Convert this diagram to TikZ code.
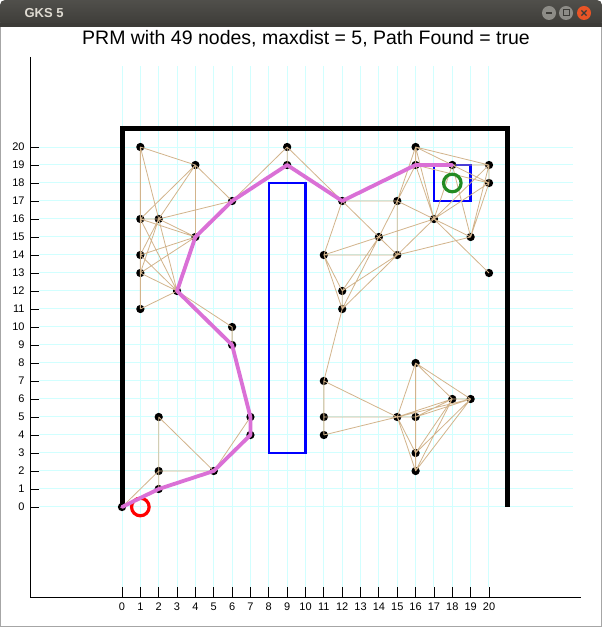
\documentclass[tikz,border=0pt]{standalone}
\usepackage{fontspec}
\setmainfont{Liberation Sans}

\definecolor{prmtan}{rgb}{0.824,0.706,0.549}
\definecolor{prmorchid}{rgb}{0.855,0.439,0.839}
\definecolor{prmgrid}{rgb}{0.82,1.0,1.0}
\definecolor{prmgreen}{rgb}{0.133,0.545,0.133}
\definecolor{prmbartop}{rgb}{0.314,0.310,0.294}
\definecolor{prmbarbot}{rgb}{0.235,0.231,0.216}
\definecolor{prmbartext}{rgb}{0.875,0.859,0.824}
\definecolor{prmbutton}{rgb}{0.553,0.549,0.529}
\definecolor{prmclose}{rgb}{0.914,0.329,0.149}
\definecolor{prmframe}{rgb}{0.650,0.650,0.650}

\tikzset{
  prmnode/.style={circle,fill=black,inner sep=0pt,minimum size=8.3pt},
  prmedge/.style={prmtan,line width=0.8pt},
  prmpath/.style={prmorchid,line width=3.8pt,line join=round,line cap=round},
  prmwall/.style={black,line width=5pt,line join=miter},
  prmobst/.style={blue,line width=2.4pt},
  prmaxis/.style={black,line width=0.9pt},
  prmbtn/.style={circle,inner sep=0pt,minimum size=14pt},
  prmtick/.style={font=\fontsize{11}{11}\selectfont,inner sep=0pt}
}

\begin{document}
\begin{tikzpicture}[x=1pt,y=1pt]
\useasboundingbox (0,0) rectangle (602,627);
% window
\fill[white] (0,0) rectangle (602,627);
\draw[prmframe,line width=1.2pt] (0.6,0.6) rectangle (601.4,610);
\shade[top color=prmbartop,bottom color=prmbarbot,rounded corners=5pt]
  (0,600) -- (0,627) -- (602,627) -- (602,600) -- cycle;
\fill[prmbarbot] (0,600) rectangle (602,604);
\node[font=\bfseries\fontsize{13}{13}\selectfont,text=prmbartext,anchor=west] (wintitle) at (21,614) {GKS 5};
\node[prmbtn,fill=prmbutton] (btnmin) at (549,614) {};
\node[prmbtn,fill=prmbutton] (btnmax) at (566,614) {};
\node[prmbtn,fill=prmclose] (btnclose) at (584,614) {};
\draw[prmbarbot,line width=1.3pt] ([xshift=-3pt]btnmin.center) -- ([xshift=3pt]btnmin.center);
\draw[prmbarbot,line width=1pt] ([shift={(-3pt,-3pt)}]btnmax.center) rectangle ([shift={(3pt,3pt)}]btnmax.center);
\draw[prmbarbot,line width=1.2pt] ([shift={(-2.6pt,-2.6pt)}]btnclose.center) -- ([shift={(2.6pt,2.6pt)}]btnclose.center)
  ([shift={(-2.6pt,2.6pt)}]btnclose.center) -- ([shift={(2.6pt,-2.6pt)}]btnclose.center);
\node[font=\fontsize{19.5}{19.5}\selectfont] (title) at (306,588) {PRM with 49 nodes, maxdist = 5, Path Found = true};

\begin{scope}[shift={(122,120)},x=18.35pt,y=18pt]
% grid and axes
\draw[prmgrid,line width=1pt] (0,-4.45) grid[xstep=1,ystep=100] (20,24.5);
\draw[prmgrid,line width=1pt] (-4.55,0) grid[xstep=100,ystep=1] (24.6,20);
\draw[prmaxis] (-5,25) -- (-5,-5) -- (25,-5);
\foreach \v in {0,...,20} {
  \draw[prmaxis] (-5,\v) -- (-4.55,\v);
  \draw[prmaxis] (\v,-5) -- (\v,-4.45);
  \node[prmtick,anchor=east] (ylab\v) at (-5.3,\v) {\v};
  \node[prmtick] (xlab\v) at (\v,-5.55) {\v};
}
% walls and obstacles
\draw[prmwall] (0,0) -- (0,21) -- (21,21) -- (21,0);
\draw[prmobst] (8,3) rectangle (10,18);
\draw[prmobst] (17,17) rectangle (19,19);
% roadmap nodes
\node[prmnode] (n0-0) at (0,0) {};
\node[prmnode] (n1-20) at (1,20) {};
\node[prmnode] (n4-19) at (4,19) {};
\node[prmnode] (n9-20) at (9,20) {};
\node[prmnode] (n9-19) at (9,19) {};
\node[prmnode] (n6-17) at (6,17) {};
\node[prmnode] (n1-16) at (1,16) {};
\node[prmnode] (n2-16) at (2,16) {};
\node[prmnode] (n4-15) at (4,15) {};
\node[prmnode] (n1-14) at (1,14) {};
\node[prmnode] (n1-13) at (1,13) {};
\node[prmnode] (n3-12) at (3,12) {};
\node[prmnode] (n1-11) at (1,11) {};
\node[prmnode] (n6-10) at (6,10) {};
\node[prmnode] (n6-9) at (6,9) {};
\node[prmnode] (n7-5) at (7,5) {};
\node[prmnode] (n7-4) at (7,4) {};
\node[prmnode] (n2-5) at (2,5) {};
\node[prmnode] (n2-2) at (2,2) {};
\node[prmnode] (n2-1) at (2,1) {};
\node[prmnode] (n5-2) at (5,2) {};
\node[prmnode] (n12-17) at (12,17) {};
\node[prmnode] (n16-20) at (16,20) {};
\node[prmnode] (n16-19) at (16,19) {};
\node[prmnode] (n18-19) at (18,19) {};
\node[prmnode] (n20-19) at (20,19) {};
\node[prmnode] (n20-18) at (20,18) {};
\node[prmnode] (n15-17) at (15,17) {};
\node[prmnode] (n17-16) at (17,16) {};
\node[prmnode] (n14-15) at (14,15) {};
\node[prmnode] (n19-15) at (19,15) {};
\node[prmnode] (n11-14) at (11,14) {};
\node[prmnode] (n15-14) at (15,14) {};
\node[prmnode] (n20-13) at (20,13) {};
\node[prmnode] (n12-12) at (12,12) {};
\node[prmnode] (n12-11) at (12,11) {};
\node[prmnode] (n11-7) at (11,7) {};
\node[prmnode] (n11-5) at (11,5) {};
\node[prmnode] (n11-4) at (11,4) {};
\node[prmnode] (n15-5) at (15,5) {};
\node[prmnode] (n16-5) at (16,5) {};
\node[prmnode] (n16-8) at (16,8) {};
\node[prmnode] (n18-6) at (18,6) {};
\node[prmnode] (n19-6) at (19,6) {};
\node[prmnode] (n16-3) at (16,3) {};
\node[prmnode] (n16-2) at (16,2) {};
% roadmap edges
\draw[prmedge] (n1-20.center) -- (n4-19.center) (n1-20.center) -- (n1-16.center) (n1-20.center) -- (n2-16.center)
  (n4-19.center) -- (n1-16.center) (n4-19.center) -- (n2-16.center) (n4-19.center) -- (n4-15.center)
  (n4-19.center) -- (n6-17.center) (n1-16.center) -- (n2-16.center) (n1-16.center) -- (n4-15.center)
  (n1-16.center) -- (n3-12.center) (n1-16.center) -- (n1-14.center) (n2-16.center) -- (n6-17.center)
  (n2-16.center) -- (n4-15.center) (n2-16.center) -- (n1-14.center) (n2-16.center) -- (n1-13.center)
  (n2-16.center) -- (n3-12.center) (n1-14.center) -- (n1-13.center) (n1-14.center) -- (n4-15.center)
  (n1-14.center) -- (n3-12.center) (n1-13.center) -- (n4-15.center) (n1-13.center) -- (n3-12.center)
  (n1-13.center) -- (n1-11.center) (n1-11.center) -- (n3-12.center) (n3-12.center) -- (n6-10.center)
  (n6-10.center) -- (n6-9.center) (n6-17.center) -- (n9-20.center) (n9-20.center) -- (n9-19.center)
  (n9-20.center) -- (n12-17.center);
\draw[prmedge] (n0-0.center) -- (n2-2.center) (n2-5.center) -- (n2-2.center) (n2-2.center) -- (n2-1.center)
  (n2-5.center) -- (n5-2.center) (n2-2.center) -- (n5-2.center) (n5-2.center) -- (n7-5.center);
\draw[prmedge] (n12-17.center) -- (n15-17.center) (n12-17.center) -- (n14-15.center) (n12-17.center) -- (n11-14.center)
  (n15-17.center) -- (n15-14.center) (n15-17.center) -- (n14-15.center) (n15-17.center) -- (n16-19.center)
  (n15-17.center) -- (n16-20.center) (n15-17.center) -- (n17-16.center) (n11-14.center) -- (n14-15.center)
  (n11-14.center) -- (n15-14.center) (n11-14.center) -- (n12-12.center) (n11-14.center) -- (n12-11.center)
  (n14-15.center) -- (n15-14.center) (n14-15.center) -- (n12-12.center) (n14-15.center) -- (n12-11.center)
  (n14-15.center) -- (n17-16.center) (n14-15.center) -- (n16-19.center) (n15-14.center) -- (n12-12.center)
  (n15-14.center) -- (n12-11.center) (n15-14.center) -- (n17-16.center) (n15-14.center) -- (n19-15.center)
  (n12-12.center) -- (n12-11.center) (n12-11.center) -- (n11-7.center);
\draw[prmedge] (n16-20.center) -- (n16-19.center) (n16-20.center) -- (n20-19.center) (n16-20.center) -- (n20-18.center)
  (n16-20.center) -- (n17-16.center) (n16-19.center) -- (n20-18.center) (n16-19.center) -- (n17-16.center)
  (n18-19.center) -- (n20-19.center) (n18-19.center) -- (n17-16.center) (n18-19.center) -- (n19-15.center)
  (n20-19.center) -- (n20-18.center) (n20-19.center) -- (n17-16.center) (n20-19.center) -- (n19-15.center)
  (n20-18.center) -- (n17-16.center) (n20-18.center) -- (n19-15.center) (n17-16.center) -- (n19-15.center)
  (n17-16.center) -- (n20-13.center);
\draw[prmedge] (n11-7.center) -- (n11-5.center) (n11-5.center) -- (n11-4.center) (n11-7.center) -- (n15-5.center)
  (n11-5.center) -- (n15-5.center) (n11-4.center) -- (n15-5.center) (n15-5.center) -- (n16-5.center)
  (n15-5.center) -- (n16-8.center) (n15-5.center) -- (n18-6.center) (n15-5.center) -- (n19-6.center)
  (n15-5.center) -- (n16-3.center) (n15-5.center) -- (n16-2.center) (n16-8.center) -- (n16-5.center)
  (n16-8.center) -- (n18-6.center) (n16-8.center) -- (n19-6.center) (n16-5.center) -- (n16-3.center)
  (n16-3.center) -- (n16-2.center) (n16-5.center) -- (n18-6.center) (n16-5.center) -- (n19-6.center)
  (n16-3.center) -- (n18-6.center) (n16-3.center) -- (n19-6.center) (n16-2.center) -- (n18-6.center)
  (n16-2.center) -- (n19-6.center) (n18-6.center) -- (n19-6.center);
% start, goal and found path
\draw[red,line width=3.2pt] (1,0) circle[radius=8.8pt];
\draw[prmgreen,line width=3.2pt] (18,18) circle[radius=8.8pt];
\draw[prmpath] (n0-0.center) -- (n2-1.center) -- (n5-2.center) -- (n7-4.center) -- (n7-5.center) -- (n6-9.center)
  -- (n3-12.center) -- (n4-15.center) -- (n6-17.center) -- (n9-19.center) -- (n12-17.center) -- (n16-19.center)
  -- (n18-19.center);
\end{scope}
\end{tikzpicture}
\end{document}
